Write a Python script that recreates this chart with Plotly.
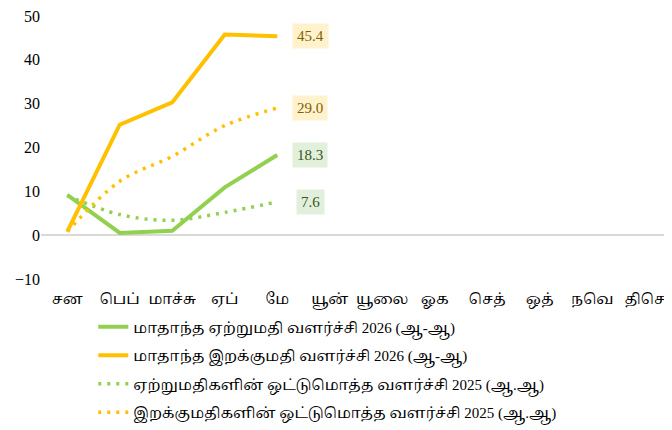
import plotly.graph_objects as go

months = ["சன", "பெப்", "மாச்சு", "ஏப்", "மே", "யூன்", "யூலை", "ஓக", "செத்", "ஒத்", "நவெ", "திசெ"]
data_months = months[:5]

exp_2026 = [9.2, 0.5, 1.0, 10.9, 18.3]
imp_2026 = [0.8, 25.2, 30.3, 45.8, 45.4]
exp_cum_2025 = [9.0, 4.7, 3.4, 5.2, 7.6]
imp_cum_2025 = [0.8, 12.3, 18.0, 25.0, 29.0]

names = [
    "மாதாந்த ஏற்றுமதி வளர்ச்சி 2026 (ஆ-ஆ)",
    "மாதாந்த இறக்குமதி வளர்ச்சி 2026 (ஆ-ஆ)",
    "ஏற்றுமதிகளின் ஒட்டுமொத்த வளர்ச்சி 2025 (ஆ.ஆ)",
    "இறக்குமதிகளின் ஒட்டுமொத்த வளர்ச்சி 2025 (ஆ.ஆ)",
]

GREEN = "#92D050"
ORANGE = "#FFC000"
FONT = "Liberation Serif, Noto Serif Tamil, Noto Sans Tamil, serif"

fig = go.Figure()
fig.add_trace(go.Scatter(x=data_months, y=exp_2026, mode="lines", name=names[0], legendgroup="a",
                         line=dict(color=GREEN, width=4)))
fig.add_trace(go.Scatter(x=data_months, y=imp_2026, mode="lines", name=names[1], legendgroup="b",
                         line=dict(color=ORANGE, width=4)))
fig.add_trace(go.Scatter(x=data_months, y=exp_cum_2025, mode="lines", name=names[2], legendgroup="c",
                         line=dict(color=GREEN, width=3.5, dash="3px,6px", shape="spline")))
fig.add_trace(go.Scatter(x=data_months, y=imp_cum_2025, mode="lines", name=names[3], legendgroup="d",
                         line=dict(color=ORANGE, width=3.5, dash="3px,6px", shape="spline")))

labels = [
    (exp_2026[-1], "#E2EFDA", "#375623"),
    (imp_2026[-1], "#FFF2CC", "#7F6000"),
    (exp_cum_2025[-1], "#E2EFDA", "#375623"),
    (imp_cum_2025[-1], "#FFF2CC", "#7F6000"),
]
for val, bg, fc in labels:
    fig.add_annotation(x=data_months[-1], y=val, text=f"{val:.1f}", showarrow=False,
                       xshift=33, bgcolor=bg, font=dict(family=FONT, size=15, color=fc),
                       borderpad=4)

fig.update_layout(
    width=672, height=430,
    margin=dict(l=33, r=9, t=8, b=159, autoexpand=False),
    paper_bgcolor="white", plot_bgcolor="white",
    font=dict(family=FONT, size=15, color="#000000"),
    showlegend=True,
    legend=dict(x=0.083, y=-0.12, xanchor="left", yanchor="top", orientation="v",
                font=dict(family=FONT, size=15), tracegroupgap=6,
                bgcolor="rgba(0,0,0,0)"),
)
fig.update_xaxes(type="category", categoryorder="array", categoryarray=months,
                 range=[-0.5, 11.5], showgrid=False, showline=False, ticks="",
                 zeroline=False, automargin=False, ticklabelstandoff=9,
                 ticklabeloverflow="allow", tickfont=dict(family=FONT, size=15))
fig.update_yaxes(range=[-10, 50], dtick=10, showgrid=False, zeroline=True,
                 zerolinecolor="#D9D9D9", zerolinewidth=1.5, showline=False,
                 automargin=False, ticks="", ticklabeloverflow="allow",
                 tickfont=dict(family=FONT, size=16))

fig.write_html("out.html")
